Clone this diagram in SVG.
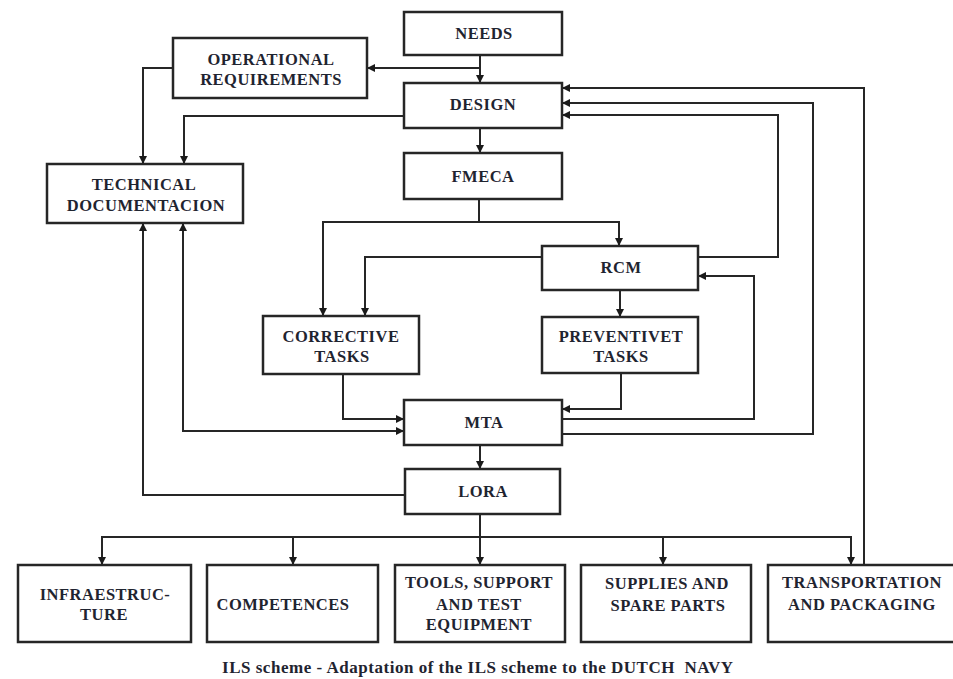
<svg xmlns="http://www.w3.org/2000/svg" width="953" height="679" viewBox="0 0 953 679">
<defs>
<style>
.box{fill:#fff;stroke:#262626;stroke-width:2.5}
.ln{fill:none;stroke:#262626;stroke-width:2}
.t{font-family:"Liberation Serif","Times New Roman",serif;font-weight:bold;font-size:16.5px;letter-spacing:0.5px;fill:#1f2430;text-anchor:middle}
.cap{font-family:"Liberation Serif","Times New Roman",serif;font-weight:bold;font-size:17px;fill:#1f2430}
</style>
<marker id="ah" viewBox="0 0 10 10" refX="10" refY="5" markerWidth="8" markerHeight="8" markerUnits="userSpaceOnUse" orient="auto-start-reverse">
<path d="M0,0 L10,5 L0,10 z" fill="#1a1a1a"/>
</marker>
</defs>
<rect width="953" height="679" fill="#fff"/>
<g id="connectors">
<path class="ln" d="M480,55 V83" marker-end="url(#ah)"/>
<path class="ln" d="M480,68 H367" marker-end="url(#ah)"/>
<path class="ln" d="M173,68 H143 V164" marker-end="url(#ah)"/>
<path class="ln" d="M404,116 H184 V164" marker-end="url(#ah)"/>
<path class="ln" d="M480,128 V153" marker-end="url(#ah)"/>
<path class="ln" d="M479,199 V222 H619 V246" marker-end="url(#ah)"/>
<path class="ln" d="M479,222 H323 V316" marker-end="url(#ah)"/>
<path class="ln" d="M542,257 H365 V316" marker-end="url(#ah)"/>
<path class="ln" d="M698,257 H778 V115 H562" marker-end="url(#ah)"/>
<path class="ln" d="M620,290 V317" marker-end="url(#ah)"/>
<path class="ln" d="M343,374 V419 H404" marker-end="url(#ah)"/>
<path class="ln" d="M621,373 V409 H562" marker-end="url(#ah)"/>
<path class="ln" d="M183,223 V431 H404" marker-start="url(#ah)" marker-end="url(#ah)"/>
<path class="ln" d="M562,419 H754 V276 H698" marker-end="url(#ah)"/>
<path class="ln" d="M562,434 H813 V103 H562" marker-end="url(#ah)"/>
<path class="ln" d="M480,445 V469" marker-end="url(#ah)"/>
<path class="ln" d="M405,495 H143 V223" marker-end="url(#ah)"/>
<path class="ln" d="M480,514 V565" marker-end="url(#ah)"/>
<path class="ln" d="M102,565 V537 H851 V565" marker-start="url(#ah)" marker-end="url(#ah)"/>
<path class="ln" d="M293,537 V565" marker-end="url(#ah)"/>
<path class="ln" d="M663,537 V565" marker-end="url(#ah)"/>
<path class="ln" d="M864,565 V88 H562" marker-end="url(#ah)"/>
</g>
<g id="needs"><rect class="box" x="404" y="12" width="158" height="43"/><text class="t" x="484" y="39">NEEDS</text></g>
<g id="operational-requirements"><rect class="box" x="173" y="38" width="194" height="60"/><text class="t" x="271" y="65">OPERATIONAL</text><text class="t" x="271" y="85">REQUIREMENTS</text></g>
<g id="design"><rect class="box" x="404" y="83" width="158" height="45"/><text class="t" x="483" y="110">DESIGN</text></g>
<g id="fmeca"><rect class="box" x="404" y="153" width="158" height="46"/><text class="t" x="483" y="182">FMECA</text></g>
<g id="technical-documentacion"><rect class="box" x="47" y="164" width="196" height="59"/><text class="t" x="144" y="190">TECHNICAL</text><text class="t" x="146" y="211">DOCUMENTACION</text></g>
<g id="rcm"><rect class="box" x="542" y="246" width="156" height="44"/><text class="t" x="621" y="273">RCM</text></g>
<g id="corrective-tasks"><rect class="box" x="263" y="316" width="156" height="58"/><text class="t" x="341" y="342">CORRECTIVE</text><text class="t" x="342" y="362">TASKS</text></g>
<g id="preventive-tasks"><rect class="box" x="542" y="317" width="156" height="56"/><text class="t" x="621" y="342">PREVENTIVET</text><text class="t" x="621" y="362">TASKS</text></g>
<g id="mta"><rect class="box" x="404" y="400" width="158" height="45"/><text class="t" x="484" y="428">MTA</text></g>
<g id="lora"><rect class="box" x="405" y="469" width="155" height="45"/><text class="t" x="483" y="497">LORA</text></g>
<g id="infraestructure"><rect class="box" x="18" y="565" width="173" height="77"/><text class="t" x="105" y="600">INFRAESTRUC-</text><text class="t" x="104" y="620">TURE</text></g>
<g id="competences"><rect class="box" x="207" y="565" width="171" height="77"/><text class="t" x="283" y="610">COMPETENCES</text></g>
<g id="tools"><rect class="box" x="395" y="565" width="170" height="77"/><text class="t" x="479" y="588">TOOLS, SUPPORT</text><text class="t" x="479" y="610">AND TEST</text><text class="t" x="479" y="630">EQUIPMENT</text></g>
<g id="supplies"><rect class="box" x="581" y="565" width="170" height="77"/><text class="t" x="667" y="589">SUPPLIES AND</text><text class="t" x="668" y="611">SPARE PARTS</text></g>
<g id="transportation"><rect class="box" x="768" y="565" width="190" height="77"/><text class="t" x="862" y="588">TRANSPORTATION</text><text class="t" x="862" y="610">AND PACKAGING</text></g>
<text class="cap" x="222" y="673" textLength="511" lengthAdjust="spacing" xml:space="preserve">ILS scheme - Adaptation of the ILS scheme to the DUTCH  NAVY</text>
</svg>
